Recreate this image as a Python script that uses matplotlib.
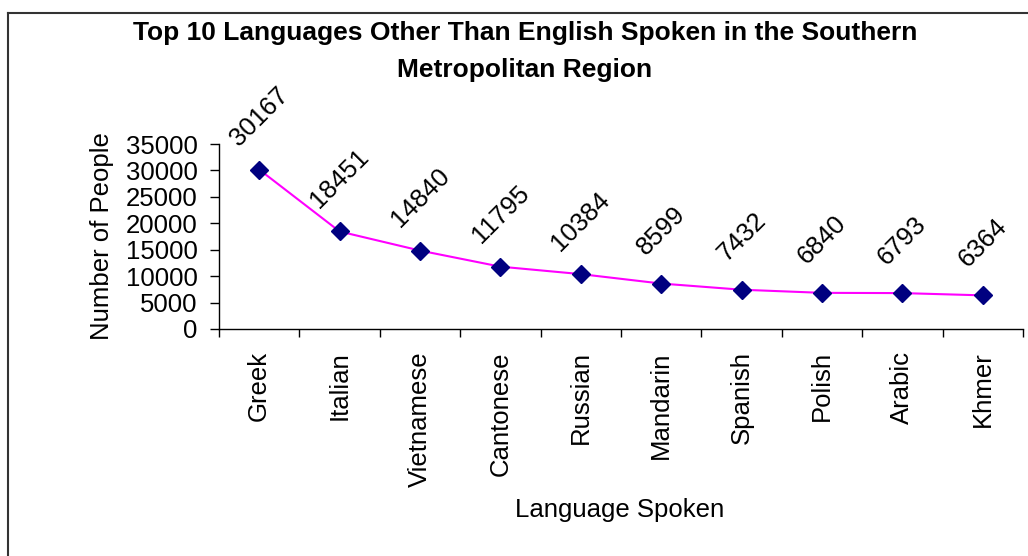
import matplotlib
matplotlib.use("Agg")
import matplotlib.pyplot as plt
from matplotlib.lines import Line2D
import numpy as np

languages = ["Greek", "Italian", "Vietnamese", "Cantonese", "Russian",
             "Mandarin", "Spanish", "Polish", "Arabic", "Khmer"]
speakers = [30167, 18451, 14840, 11795, 10384, 8599, 7432, 6840, 6793, 6364]
y_ticks = [0, 5000, 10000, 15000, 20000, 25000, 30000, 35000]

plt.rcParams['font.family'] = ['Liberation Sans', 'DejaVu Sans']

W, H = 1028, 556
fig = plt.figure(figsize=(W / 100, H / 100), dpi=100)
ax = fig.add_axes([219 / W, 1 - 329 / H, 804 / W, 185 / H])

x = np.arange(len(languages))
ax.plot(x, speakers, color="#FF00FF", lw=1.5, marker="D", markersize=9.5,
        markerfacecolor="#000080", markeredgecolor="#000080", zorder=3)

# rotated value labels above each point
for xi, v in zip(x, speakers):
    ax.annotate(str(v), (xi, v), xytext=(0, 38), textcoords="offset points",
                rotation=45, ha="center", va="center", fontsize=18.5)

ax.set_xlim(-0.5, len(languages) - 0.5)
ax.set_ylim(0, 35000)
ax.set_yticks(y_ticks)
ax.set_yticklabels([str(t) for t in y_ticks], fontsize=18.5)
ax.tick_params(axis="y", direction="out", length=6.5, width=1, pad=9)

ax.set_xticks(x)
ax.set_xticklabels(languages, rotation=90, fontsize=18.5, va="top")
ax.tick_params(axis="x", length=0, pad=16)
ax.set_xticks(np.arange(-0.5, len(languages)), minor=True)
ax.tick_params(axis="x", which="minor", direction="out", length=6, width=1)

for s in ["top", "right"]:
    ax.spines[s].set_visible(False)
ax.spines["left"].set_linewidth(1)
ax.spines["bottom"].set_linewidth(1)

ax.set_ylabel("Number of People", fontsize=18.5)
ax.yaxis.set_label_coords((114 - 219) / 804, 0.5)
ax.set_xlabel("Language Spoken", fontsize=18.5)
ax.xaxis.set_label_coords((620 - 219) / 804, (329 - 498) / 185)

fig.text(525 / W, 1 - 33 / H, "Top 10 Languages Other Than English Spoken in the Southern",
         ha="center", va="center", fontsize=19, fontweight="bold")
fig.text(525 / W, 1 - 70 / H, "Metropolitan Region",
         ha="center", va="center", fontsize=19, fontweight="bold")

# chart area border (top and left edges visible)
fig.add_artist(Line2D([8 / W, 1], [1 - 13 / H, 1 - 13 / H], transform=fig.transFigure,
                      color="#333333", lw=1.5))
fig.add_artist(Line2D([8 / W, 8 / W], [0, 1 - 13 / H], transform=fig.transFigure,
                      color="#333333", lw=1.5))

fig.savefig("out.png", dpi=100)
